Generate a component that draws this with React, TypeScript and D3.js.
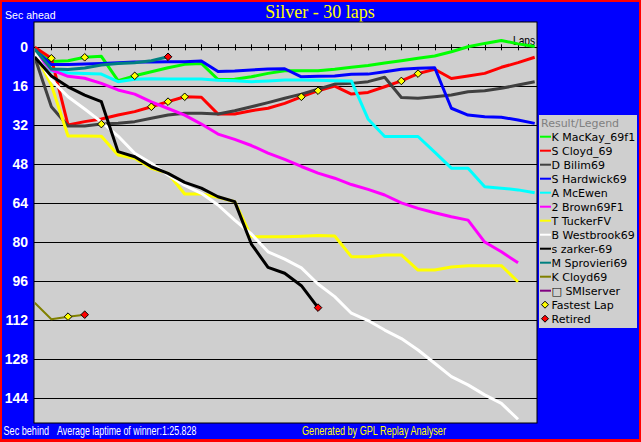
import React from "react";
import * as d3 from "d3";

// seconds behind (positive = behind) per lap, lap 0 = start
const mackay = [1.1, 5.8, 5.5, 4.1, 3.7, 13.7, 11.7, 10.0, 8.4, 7.0, 6.6, 13.2, 13.1, 12.1, 10.7, 9.6, 9.6, 9.6, 9.0, 8.2, 7.5, 6.4, 5.5, 4.5, 3.6, 1.8, -0.2, -1.6, -2.8, -1.4, -0.3];
const scloyd = [0, 4.5, 31.9, 30.5, 29.4, 27.8, 26.4, 24.4, 22.3, 20.3, 20.5, 27.4, 27.4, 26.0, 25.0, 23.0, 20.3, 17.8, 15.9, 19.2, 18.5, 16.2, 13.8, 10.8, 9.0, 12.8, 11.8, 10.7, 8.2, 6.3, 4.1];
const bilim = [4.0, 24.4, 32.3, 32.3, 31.5, 31.2, 30.5, 29.1, 27.8, 27.1, 27.1, 27.4, 26.0, 24.4, 22.7, 20.9, 19.2, 17.2, 15.1, 14.8, 14.1, 12.3, 20.6, 20.9, 20.3, 19.6, 18.2, 17.8, 16.8, 15.5, 14.1];
const hardwick = [1.1, 7.1, 7.1, 6.9, 6.6, 6.3, 6.0, 6.0, 5.9, 5.9, 5.6, 9.9, 9.7, 9.3, 8.9, 8.8, 12.1, 11.9, 11.8, 11.1, 11.0, 10.0, 9.0, 8.6, 8.4, 25.0, 27.8, 28.5, 28.7, 29.8, 31.2];
const mcewen = [1.8, 9.7, 10.5, 10.7, 11.0, 14.1, 13.1, 12.9, 13.0, 13.0, 13.0, 13.5, 13.7, 14.1, 13.8, 13.4, 13.4, 13.5, 13.7, 13.8, 29.4, 36.6, 36.6, 36.6, 43.0, 49.6, 49.6, 57.2, 57.8, 58.5, 59.7];
const brown = [1.9, 9.3, 11.9, 12.7, 14.8, 17.5, 19.2, 22.4, 25.1, 27.8, 31.5, 35.6, 37.8, 40.3, 43.4, 46.0, 48.9, 51.6, 53.7, 56.3, 58.3, 60.6, 63.8, 66.1, 67.9, 69.5, 70.9, 79.9, 83.9, 88.4];
const tucker = [2.1, 15.5, 36.4, 36.4, 36.5, 44.2, 45.5, 49.6, 51.7, 60.2, 60.2, 61.5, 63.3, 77.7, 77.7, 77.7, 77.5, 77.2, 77.4, 85.9, 85.9, 85.2, 85.2, 91.4, 91.4, 90.1, 89.6, 89.6, 89.6, 96.2];
const westbrook = [2.3, 13.4, 20.3, 25.3, 30.6, 36.4, 43.5, 47.6, 52.4, 56.7, 59.9, 64.7, 70.9, 76.6, 83.9, 86.9, 90.5, 97.1, 102.3, 109.1, 112.1, 116.0, 119.5, 124.2, 129.6, 135.1, 138.5, 142.6, 146.1, 152.6];
const zarker = [4.0, 11.8, 16.2, 19.6, 22.3, 42.8, 44.9, 49.0, 51.7, 55.4, 57.8, 61.3, 63.3, 80.7, 90.3, 92.7, 97.8, 106.8];
const sprovieri = [0.7, 8.9, 9.1, 8.5, 7.3, 6.6, 6.3, 5.5, 3.9];
const kcloyd = [104.8, 111.6, 110.5, 109.7];
const smiserver: number[] = [];

const drivers = [
  { name: "K MacKay_69f1", color: "#00ff00", values: mackay },
  { name: "S Cloyd_69", color: "#ff0000", values: scloyd },
  { name: "D Bilim69", color: "#404040", values: bilim },
  { name: "S Hardwick69", color: "#0000ff", values: hardwick },
  { name: "A McEwen", color: "#00ffff", values: mcewen },
  { name: "2 Brown69F1", color: "#ff00ff", values: brown },
  { name: "T TuckerFV", color: "#ffff00", values: tucker },
  { name: "B Westbrook69", color: "#ffffff", values: westbrook },
  { name: "s zarker-69", color: "#000000", values: zarker },
  { name: "M Sprovieri69", color: "#008080", values: sprovieri },
  { name: "K Cloyd69", color: "#808000", values: kcloyd },
  { name: "\u25A1 SMIserver", color: "#800080", values: smiserver },
];

const fastestLaps = [
  { driver: 1, lap: 1 }, { driver: 0, lap: 3 }, { driver: 2, lap: 4 }, { driver: 0, lap: 6 },
  { driver: 1, lap: 7 }, { driver: 1, lap: 8 }, { driver: 1, lap: 9 }, { driver: 1, lap: 16 },
  { driver: 1, lap: 17 }, { driver: 1, lap: 22 }, { driver: 1, lap: 23 }, { driver: 10, lap: 2 },
];
const retired = [{ driver: 9, lap: 8 }, { driver: 10, lap: 3 }, { driver: 8, lap: 17 }];

const yTicks = [0, 16, 32, 48, 64, 80, 96, 112, 128, 144];
const totalLaps = 30;

const W = 641, H = 442;
const plot = { left: 34, top: 22, right: 537, bottom: 423 };

// narrow text: squeeze horizontally so it matches the original's condensed font
function Narrow({ x, y, sx, fill, size, children }: { x: number; y: number; sx: number; fill: string; size: number; children: string }) {
  return (
    <text transform={`translate(${x},${y}) scale(${sx},1)`} fill={fill}
      fontFamily="'Liberation Sans', Arial, sans-serif" fontSize={size}>{children}</text>
  );
}

export default function App() {
  const x = d3.scaleLinear().domain([0, totalLaps]).range([34.7, 534.7]);
  const y = d3.scaleLinear().domain([0, 144]).range([47.3, 398.3]);
  const line = d3.line<number>().x((_, i) => x(i)).y((d) => y(d));
  const lapTicks = d3.range(1, totalLaps);

  const diamond = (cx: number, cy: number, r: number) =>
    `${cx},${cy - r} ${cx + r},${cy} ${cx},${cy + r} ${cx - r},${cy}`;

  const legendX = 539, legendTop = 115;
  const sans = "'DejaVu Sans', sans-serif";
  const narrow = "'Liberation Sans', Arial, sans-serif";

  return (
    <svg width={W} height={H} style={{ position: "absolute", left: 0, top: 0 }}>
      <rect x={0} y={0} width={W} height={H} fill="#ff0000" />
      <rect x={2} y={2} width={W - 4} height={H - 5} fill="#0000ff" />

      <text x={320} y={17.5} textAnchor="middle" fill="#ffff00"
        fontFamily="'Liberation Serif', 'Times New Roman', serif" fontSize={18}>Silver - 30 laps</text>
      <Narrow x={5} y={19} sx={0.92} fill="#ffffff" size={11.5}>Sec ahead</Narrow>

      <rect x={plot.left} y={plot.top} width={plot.right - plot.left} height={plot.bottom - plot.top}
        fill="#cfcfcf" stroke="#000" strokeWidth={1} />

      {yTicks.map((t) => (
        <g key={t}>
          <line x1={plot.left} x2={plot.right} y1={Math.round(y(t)) + 0.5} y2={Math.round(y(t)) + 0.5}
            stroke="#000" strokeWidth={1} />
          <text x={28} y={y(t) + 5} textAnchor="end" fill="#ffffff" fontFamily={narrow}
            fontWeight="bold" fontSize={14}>{t}</text>
        </g>
      ))}
      {lapTicks.map((l) => (
        <line key={l} x1={Math.round(x(l)) + 0.5} x2={Math.round(x(l)) + 0.5}
          y1={y(0) - 3} y2={y(0) + 3} stroke="#000" strokeWidth={1} />
      ))}
      <Narrow x={513} y={45} sx={0.85} fill="#000000" size={12}>Laps</Narrow>

      <g clipPath="url(#plotclip)">
        <clipPath id="plotclip">
          <rect x={plot.left + 1} y={plot.top + 1} width={plot.right - plot.left - 1} height={plot.bottom - plot.top - 1} />
        </clipPath>
        {drivers.map((d) =>
          d.values.length > 1 ? (
            <path key={d.name} d={line(d.values) || ""} fill="none" stroke={d.color}
              strokeWidth={d.name === "K Cloyd69" ? 2 : 3} strokeLinejoin="round" />
          ) : null
        )}
        {fastestLaps.map((m, i) => (
          <polygon key={"f" + i} points={diamond(x(m.lap), y(drivers[m.driver].values[m.lap]), 3.8)}
            fill="#ffff00" stroke="#000" strokeWidth={1} />
        ))}
        {retired.map((m, i) => (
          <polygon key={"r" + i} points={diamond(x(m.lap), y(drivers[m.driver].values[m.lap]), 3.8)}
            fill="#ff0000" stroke="#000" strokeWidth={1} />
        ))}
      </g>

      <rect x={legendX} y={legendTop} width={98} height={213} fill="#cfcfcf" />
      <text x={legendX + 2} y={legendTop + 12} fill="#808080" fontFamily={sans} fontSize={11}>Result/Legend</text>
      {drivers.map((d, i) => {
        const cy = legendTop + 21.7 + i * 14;
        return (
          <g key={d.name}>
            <line x1={legendX + 1} x2={legendX + 12} y1={cy} y2={cy} stroke={d.color} strokeWidth={2} />
            <text x={legendX + 12.5} y={cy + 4} fill="#000" fontFamily={sans} fontSize={11}>{d.name}</text>
          </g>
        );
      })}
      {[{ label: "Fastest Lap", fill: "#ffff00" }, { label: "Retired", fill: "#ff0000" }].map((m, i) => {
        const cy = legendTop + 21.7 + (drivers.length + i) * 14;
        return (
          <g key={m.label}>
            <polygon points={diamond(legendX + 6, cy, 3.5)} fill={m.fill} stroke="#000" strokeWidth={1} />
            <text x={legendX + 12.5} y={cy + 4} fill="#000" fontFamily={sans} fontSize={11}>{m.label}</text>
          </g>
        );
      })}

      <Narrow x={3.5} y={435} sx={0.76} fill="#ffffff" size={12}>Sec behind</Narrow>
      <Narrow x={57} y={435} sx={0.74} fill="#ffffff" size={12}>Average laptime of winner:1:25.828</Narrow>
      <Narrow x={302} y={435} sx={0.76} fill="#ffff00" size={12}>Generated by GPL Replay Analyser</Narrow>
    </svg>
  );
}
